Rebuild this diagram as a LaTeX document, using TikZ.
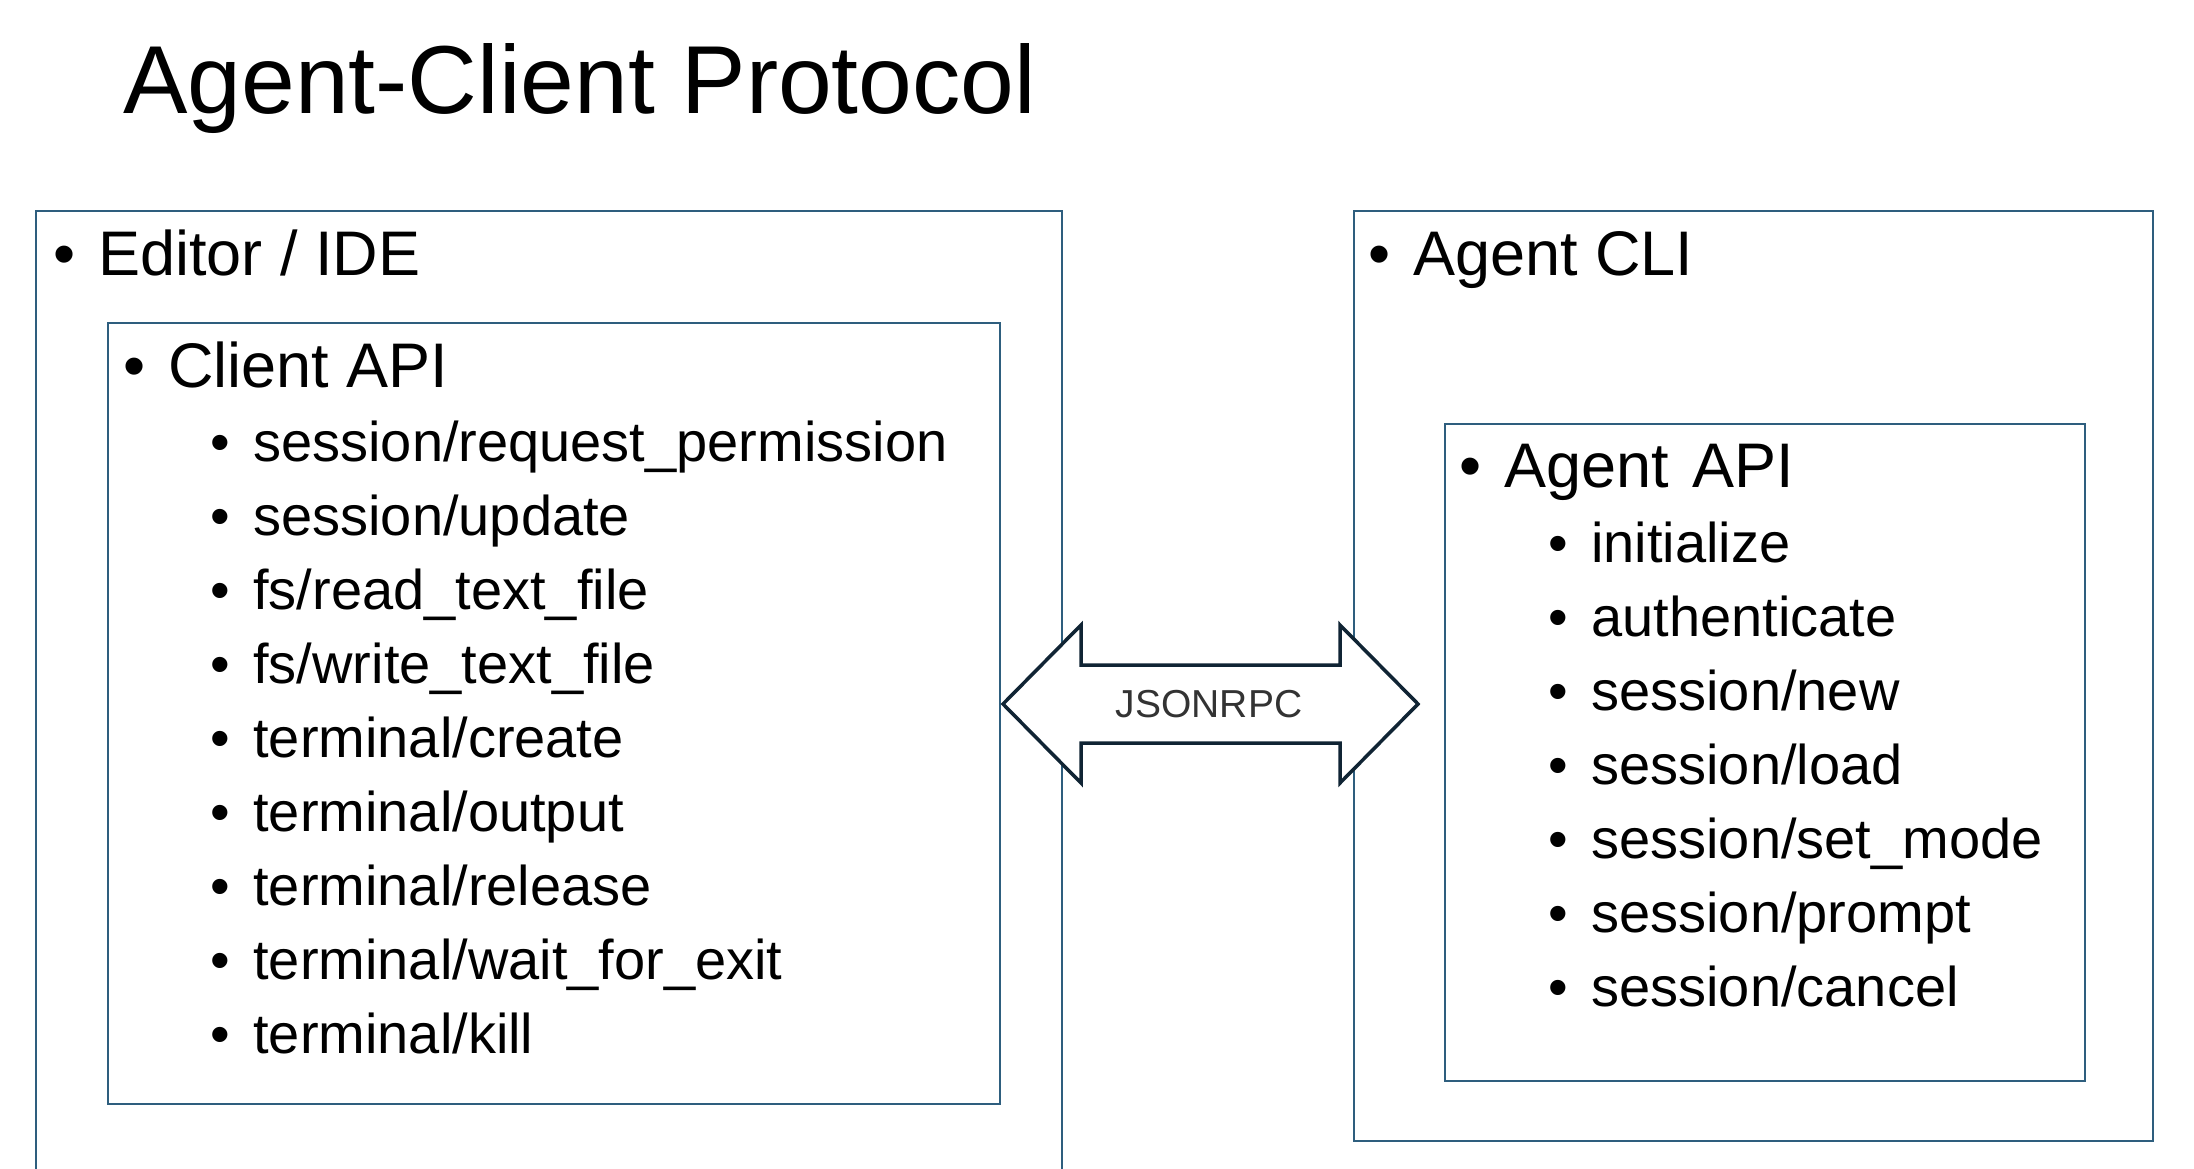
\documentclass[tikz,border=0pt]{standalone}
\usepackage{fontspec}
\setmainfont{Liberation Sans}
\definecolor{rahmenblau}{RGB}{46,94,126}
\definecolor{pfeilrand}{RGB}{16,36,52}
\begin{document}
\begin{tikzpicture}[x=0.5pt,y=-0.5pt,
	rahmen/.style={draw=rahmenblau,line width=1pt},
	pfeil/.style={draw=pfeilrand,fill=white,line width=1.75pt,line join=miter},
	kopf/.style={anchor=base west,inner sep=0pt,font=\fontsize{31.5}{38}\selectfont},
	eintrag/.style={anchor=base west,inner sep=0pt,font=\fontsize{28}{34}\selectfont}]
\def\bul{\llap{\textbullet\hspace{11.5pt}}}
\useasboundingbox (0,0) rectangle (2194,1168);
\node[anchor=base west,inner sep=0pt,font=\fontsize{48.3}{58}\selectfont] (titel) at (123,113) {Agent-Client Protocol};
\draw[rahmen] (36,211) rectangle (1062,1200);
\draw[rahmen] (108,323) rectangle (1000,1104);
\draw[rahmen] (1354,211) rectangle (2153,1141);
\draw[rahmen] (1445,424) rectangle (2085,1081);
\node[kopf] (editor) at (98,275) {\bul Editor / IDE};
\node[kopf] (client) at (168,387) {\bul Client API};
\node[kopf] (cli) at (1413,275) {\bul Agent CLI};
\node[kopf] (agent) at (1504,487) {\bul Agent\ \hspace{3pt}API};
\foreach \t [count=\i from 0] in {session/request\_permission,session/update,fs/read\_text\_file,fs/write\_text\_file,terminal/create,terminal/output,terminal/release,terminal/wait\_for\_exit,terminal/kill}
	\node[eintrag] (client\i) at (253,{461+74*\i}) {\bul\t};
\foreach \t [count=\i from 0] in {initialize,authenticate,session/new,session/load,session/set\_mode,session/prompt,session/cancel}
	\node[eintrag] (agent\i) at (1591,{562+74*\i}) {\bul\t};
\draw[pfeil] (1003,704) -- (1081,625) -- (1081,665) -- (1340,665) -- (1340,625) -- (1418,704)
	-- (1340,783) -- (1340,743) -- (1081,743) -- (1081,783) -- cycle;
\node[font=\fontsize{19.5}{24}\selectfont,text=black!80,inner sep=0pt] (jsonrpc) at (1209,704) {JSONRPC};
\end{tikzpicture}
\end{document}
